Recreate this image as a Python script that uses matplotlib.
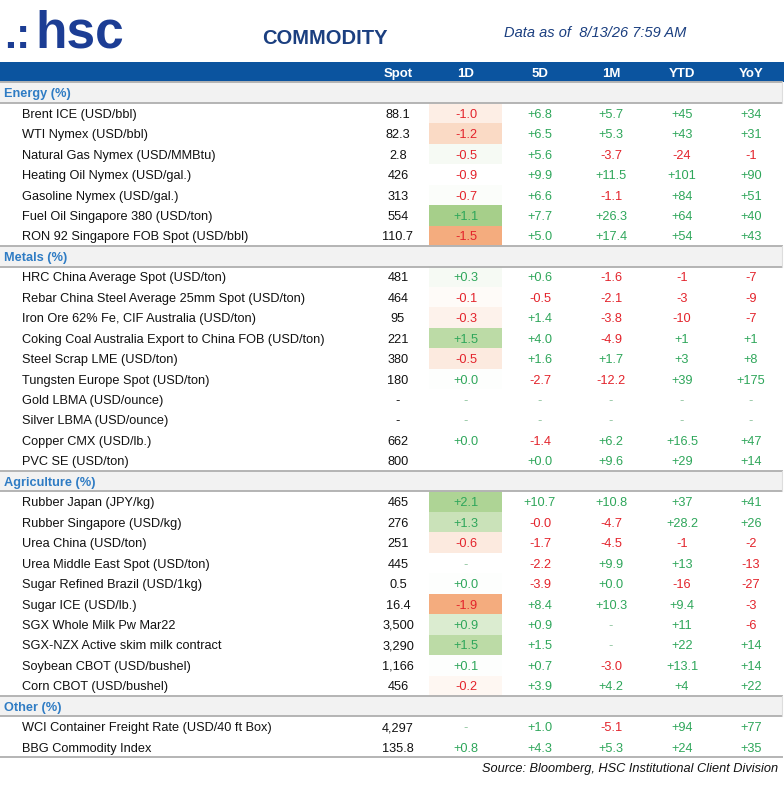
import matplotlib
matplotlib.use("Agg")
import matplotlib.pyplot as plt
from matplotlib.colors import LinearSegmentedColormap, Normalize
from matplotlib.patches import Rectangle

plt.rcParams['font.family'] = ['Liberation Sans', 'DejaVu Sans']

# ---------------- data ----------------
columns = ["Spot", "1D", "5D", "1M", "YTD", "YoY"]

sections = ["Energy (%)", "Metals (%)", "Agriculture (%)", "Other (%)"]

energy_names = ["Brent ICE (USD/bbl)", "WTI Nymex (USD/bbl)", "Natural Gas Nymex (USD/MMBtu)",
                "Heating Oil Nymex (USD/gal.)", "Gasoline Nymex (USD/gal.)",
                "Fuel Oil Singapore 380 (USD/ton)", "RON 92 Singapore FOB Spot (USD/bbl)"]
energy_spot = ["88.1", "82.3", "2.8", "426", "313", "554", "110.7"]
energy_1d = ["-1.0", "-1.2", "-0.5", "-0.9", "-0.7", "+1.1", "-1.5"]
energy_5d = ["+6.8", "+6.5", "+5.6", "+9.9", "+6.6", "+7.7", "+5.0"]
energy_1m = ["+5.7", "+5.3", "-3.7", "+11.5", "-1.1", "+26.3", "+17.4"]
energy_ytd = ["+45", "+43", "-24", "+101", "+84", "+64", "+54"]
energy_yoy = ["+34", "+31", "-1", "+90", "+51", "+40", "+43"]
energy_heat = [-0.2, -0.45, 0.1, 0.0, 0.04, 1.0, -1.0]

metals_names = ["HRC China Average Spot (USD/ton)", "Rebar China Steel Average 25mm Spot (USD/ton)",
                "Iron Ore 62% Fe, CIF Australia (USD/ton)",
                "Coking Coal Australia Export to China FOB (USD/ton)", "Steel Scrap LME (USD/ton)",
                "Tungsten Europe Spot (USD/ton)", "Gold LBMA (USD/ounce)", "Silver LBMA (USD/ounce)",
                "Copper CMX (USD/lb.)", "PVC SE (USD/ton)"]
metals_spot = ["481", "464", "95", "221", "380", "180", "-", "-", "662", "800"]
metals_1d = ["+0.3", "-0.1", "-0.3", "+1.5", "-0.5", "+0.0", "-", "-", "+0.0", ""]
metals_5d = ["+0.6", "-0.5", "+1.4", "+4.0", "+1.6", "-2.7", "-", "-", "-1.4", "+0.0"]
metals_1m = ["-1.6", "-2.1", "-3.8", "-4.9", "+1.7", "-12.2", "-", "-", "+6.2", "+9.6"]
metals_ytd = ["-1", "-3", "-10", "+1", "+3", "+39", "-", "-", "+16.5", "+29"]
metals_yoy = ["-7", "-9", "-7", "+1", "+8", "+175", "-", "-", "+47", "+14"]
metals_heat = [0.1, -0.05, -0.15, 0.75, -0.25, 0.02, None, None, 0.0, None]

agri_names = ["Rubber Japan (JPY/kg)", "Rubber Singapore (USD/kg)", "Urea China (USD/ton)",
              "Urea Middle East Spot (USD/ton)", "Sugar Refined Brazil (USD/1kg)", "Sugar ICE (USD/lb.)",
              "SGX Whole Milk Pw Mar22", "SGX-NZX Active skim milk contract",
              "Soybean CBOT (USD/bushel)", "Corn CBOT (USD/bushel)"]
agri_spot = ["465", "276", "251", "445", "0.5", "16.4", "3,500", "3,290", "1,166", "456"]
agri_1d = ["+2.1", "+1.3", "-0.6", "-", "+0.0", "-1.9", "+0.9", "+1.5", "+0.1", "-0.2"]
agri_5d = ["+10.7", "-0.0", "-1.7", "-2.2", "-3.9", "+8.4", "+0.9", "+1.5", "+0.7", "+3.9"]
agri_1m = ["+10.8", "-4.7", "-4.5", "+9.9", "+0.0", "+10.3", "-", "-", "-3.0", "+4.2"]
agri_ytd = ["+37", "+28.2", "-1", "+13", "-16", "+9.4", "+11", "+22", "+13.1", "+4"]
agri_yoy = ["+41", "+26", "-2", "-13", "-27", "-3", "-6", "+14", "+14", "+22"]
agri_heat = [0.9, 0.6, -0.25, None, 0.02, -1.0, 0.4, 0.75, 0.02, -0.1]

other_names = ["WCI Container Freight Rate (USD/40 ft Box)", "BBG Commodity Index"]
other_spot = ["4,297", "135.8"]
other_1d = ["-", "+0.8"]
other_5d = ["+1.0", "+4.3"]
other_1m = ["-5.1", "+5.3"]
other_ytd = ["+94", "+24"]
other_yoy = ["+77", "+35"]
other_heat = [None, 0.0]

title = "COMMODITY"
as_of = "Data as of  8/13/26 7:59 AM"
source = "Source: Bloomberg, HSC Institutional Client Division"

blocks = [
    (sections[0], energy_names, [energy_spot, energy_1d, energy_5d, energy_1m, energy_ytd, energy_yoy], energy_heat),
    (sections[1], metals_names, [metals_spot, metals_1d, metals_5d, metals_1m, metals_ytd, metals_yoy], metals_heat),
    (sections[2], agri_names, [agri_spot, agri_1d, agri_5d, agri_1m, agri_ytd, agri_yoy], agri_heat),
    (sections[3], other_names, [other_spot, other_1d, other_5d, other_1m, other_ytd, other_yoy], other_heat),
]

# ---------------- style ----------------
W, H = 784, 800
BAR = "#0b549f"
DARK = "#1c3d94"
TITLE = "#1b3f80"
SEC_BLUE = "#2f7cc4"
GREEN = "#2ea65a"
RED = "#e3232b"
DASH = "#8fc49e"
SEC_BG = "#f2f2f2"
LINE = "#b4b4b4"

col_x = [398, 466, 540, 611, 682, 751]
heat_x0, heat_x1 = 429, 502
top = 62.0
row_h = 20.45
fs = 9.2
base_off = 4.6  # baseline offset below row centre

heat_cmap = LinearSegmentedColormap.from_list("heat", ["#f4ac7e", "#ffffff", "#a6cf8a"])
heat_norm = Normalize(-1, 1)

fig = plt.figure(figsize=(W / 100, H / 100), dpi=100)
ax = fig.add_axes([0, 0, 1, 1])
ax.set_xlim(0, W)
ax.set_ylim(H, 0)
ax.axis("off")

# logo and titles
ax.text(4, 48, ".:", fontsize=31, fontweight="bold", color=DARK, ha="left", va="baseline")
ax.text(35, 48, "hsc", fontsize=37, fontweight="bold", color=DARK, ha="left", va="baseline")
ax.text(325, 44, title, fontsize=14.5, fontweight="bold", color=TITLE, ha="center", va="baseline")
ax.text(595, 37, as_of, fontsize=10.5, style="italic", color=TITLE, ha="center", va="baseline")

# header bar
ax.add_patch(Rectangle((0, top), W, row_h, color=BAR, lw=0))
for x, c in zip(col_x, columns):
    ax.text(x, top + row_h / 2 + base_off, c, fontsize=fs + 0.3, fontweight="bold", color="white",
            ha="center", va="baseline")


def txt_color(s):
    if s.startswith("+"):
        return GREEN
    if s.startswith("-") and len(s) > 1:
        return RED
    return DASH


r = 1
for sec, names, cols, heat in blocks:
    y0 = top + r * row_h
    ax.add_patch(Rectangle((0, y0), W - 2, row_h, facecolor=SEC_BG, edgecolor="none"))
    ax.plot([0, W - 2], [y0, y0], color=LINE, lw=1.4)
    ax.plot([0, W - 2], [y0 + row_h, y0 + row_h], color=LINE, lw=1.4)
    ax.plot([W - 2, W - 2], [y0, y0 + row_h], color="#dddddd", lw=0.8)
    ax.text(4, y0 + row_h / 2 + base_off, sec, fontsize=fs, fontweight="bold", color=SEC_BLUE,
            ha="left", va="baseline")
    r += 1
    for i, name in enumerate(names):
        y0 = top + r * row_h
        yb = y0 + row_h / 2 + base_off
        if heat[i] is not None:
            ax.add_patch(Rectangle((heat_x0, y0), heat_x1 - heat_x0, row_h,
                                   facecolor=heat_cmap(heat_norm(heat[i])), edgecolor="none"))
        ax.text(22, yb, name, fontsize=fs, color="#111111", ha="left", va="baseline")
        for j, (x, vals) in enumerate(zip(col_x, cols)):
            s = vals[i]
            if not s:
                continue
            color = "#111111" if j == 0 else txt_color(s)
            ax.text(x, yb, s, fontsize=fs, color=color, ha="center", va="baseline")
        r += 1

y_end = top + r * row_h
ax.plot([0, W - 2], [y_end, y_end], color=LINE, lw=1.4)
ax.text(778, y_end + 10.5 + base_off, source, fontsize=fs, style="italic", color="#111111",
        ha="right", va="baseline")

fig.savefig("out.png", dpi=100, facecolor="white")
